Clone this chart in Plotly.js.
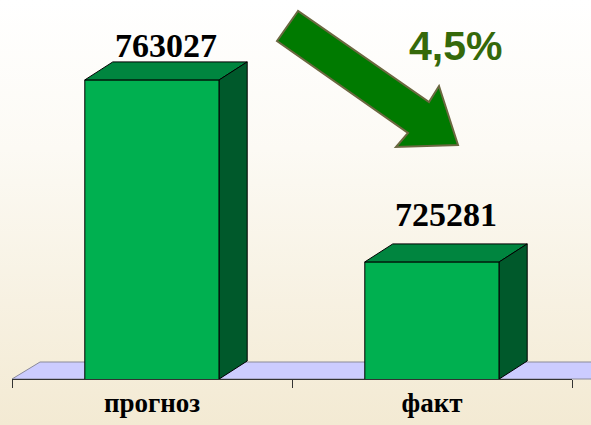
<!DOCTYPE html>
<html><head><meta charset="utf-8">
<script src="https://cdn.plot.ly/plotly-3.0.1.min.js"></script>
<style>
html,body{margin:0;padding:0;}
body{width:591px;height:425px;overflow:hidden;background:linear-gradient(to bottom,#ffffff 0%,#fcfaf4 35%,#f3ead3 100%);}
#chart{width:591px;height:425px;}
</style></head><body><div id="chart"></div>
<script>
// ---- data ----
const categories = ['прогноз', 'факт'];
const values = [763027, 725281];
const valueLabels = ['763027', '725281'];
const changeLabel = '4,5%';

// ---- layout / style constants ----
const W = 591, H = 425;
const M = {l: 12, r: 19, t: 0, b: 46};
const yRange = [701000, 779600];
const plotW = W - M.l - M.r, plotH = H - M.t - M.b;
const barWidth = 0.48;
const depth = {x: 28, y: 18};          // 3-D depth in pixels
const floorDepth = {x: 28, y: 17};
const dX = depth.x * categories.length / plotW;
const dY = depth.y * (yRange[1] - yRange[0]) / plotH;
const labelYShift = [34, 47];
const frontColor = '#00B050', topColor = '#00853F', sideColor = '#00592B';

const idx = categories.map((c, i) => i);

// pixel -> paper helper for decorations
const px = (x) => (x - M.l) / plotW;
const py = (y) => (H - M.b - y) / plotH;

const shapes = [];
// floor
shapes.push({
  type: 'path', xref: 'paper', yref: 'paper', layer: 'below',
  path: `M0,0 L${floorDepth.x / plotW},${floorDepth.y / plotH} L${1 + floorDepth.x / plotW + 0.05},${floorDepth.y / plotH} L1.05,0 Z`,
  fillcolor: '#CCCCFF', line: {color: '#8a8a9a', width: 1}
});
// 3-D faces of bars
idx.forEach(i => {
  const v = values[i];
  const xl = i - barWidth / 2, xr = i + barWidth / 2;
  shapes.push({
    type: 'path', xref: 'x', yref: 'y', layer: 'above',
    path: `M${xl},${v} L${xl + dX},${v + dY} L${xr + dX},${v + dY} L${xr},${v} Z`,
    fillcolor: topColor, line: {color: '#000000', width: 1}
  });
  shapes.push({
    type: 'path', xref: 'x', yref: 'y', layer: 'above',
    path: `M${xr},${v} L${xr + dX},${v + dY} L${xr + dX},${yRange[0] + dY} L${xr},${yRange[0]} Z`,
    fillcolor: sideColor, line: {color: '#000000', width: 1}
  });
});
// arrow decoration
const arrowPts = [[298, 11], [277, 41], [408, 133], [396, 147], [458, 145], [439, 86], [429, 102]];
shapes.push({
  type: 'path', xref: 'paper', yref: 'paper', layer: 'above',
  path: 'M' + arrowPts.map(p => `${px(p[0])},${py(p[1])}`).join(' L') + ' Z',
  fillcolor: '#007A00', line: {color: '#6B6840', width: 2}
});

const annotations = idx.map(i => ({
  x: categories[i], y: values[i], xref: 'x', yref: 'y',
  text: valueLabels[i], showarrow: false,
  xshift: 14, yshift: labelYShift[i], yanchor: 'middle',
  font: {family: 'Liberation Serif, Times New Roman, serif', size: 34, color: '#000000', weight: 'bold'}
}));
annotations.push({
  x: px(455), y: py(46), xref: 'paper', yref: 'paper',
  text: changeLabel, showarrow: false, xanchor: 'center', yanchor: 'middle',
  font: {family: 'Liberation Sans, Arial, sans-serif', size: 41, color: '#35690A', weight: 'bold'}
});

const trace = {
  type: 'bar', x: categories, y: values,
  width: barWidth,
  marker: {color: frontColor, line: {color: '#000000', width: 1}},
  hoverinfo: 'skip'
};

const layout = {
  width: W, height: H,
  margin: M,
  paper_bgcolor: 'rgba(0,0,0,0)', plot_bgcolor: 'rgba(0,0,0,0)',
  showlegend: false,
  xaxis: {
    type: 'category',
    range: [-0.5, categories.length - 0.5],
    tickson: 'boundaries',
    showline: true, linecolor: '#333333', linewidth: 1,
    ticks: 'outside', ticklen: 8, tickcolor: '#333333', tickwidth: 1,
    showgrid: false, zeroline: false, fixedrange: true,
    tickfont: {family: 'Liberation Serif, Times New Roman, serif', size: 27, color: '#000000', weight: 'bold'}
  },
  yaxis: {range: yRange, visible: false, fixedrange: true},
  shapes: shapes,
  annotations: annotations
};

Plotly.newPlot('chart', [trace], layout, {displayModeBar: false, staticPlot: true});
</script></body></html>
